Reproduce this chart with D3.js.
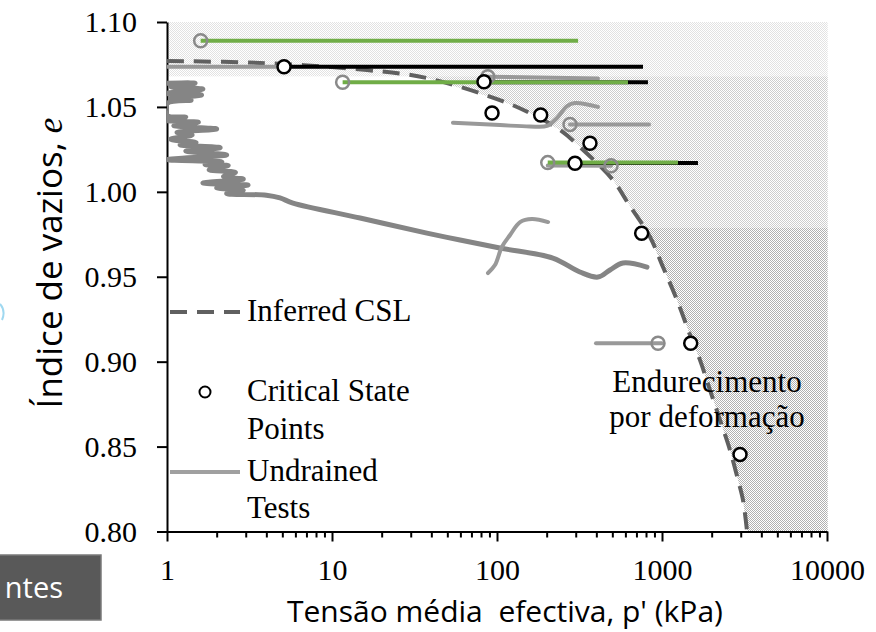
<!DOCTYPE html>
<html>
<head>
<meta charset="utf-8">
<script src="https://cdn.jsdelivr.net/npm/d3@7"></script>
<style>
  body { margin: 0; background: #fff; }
  svg text { white-space: pre; }
</style>
</head>
<body>
<div id="chart"></div>
<script>
// ---- data (p' in kPa, void ratio e) ----
const xTicks = [1, 10, 100, 1000, 10000];
const yTicks = [0.80, 0.85, 0.90, 0.95, 1.00, 1.05, 1.10];

const cslLine = [[1, 1.077], [3.66, 1.0759], [16.3, 1.0717], [37.6, 1.067], [104, 1.054], [158, 1.0464],
  [241, 1.0364], [318, 1.0264], [505, 1.0069], [622, 0.9934], [846, 0.9734], [1014, 0.9557],
  [1233, 0.9363], [1479, 0.9157], [1700, 0.9009], [1954, 0.8833], [2248, 0.8656], [2583, 0.8479],
  [2890, 0.8303], [3097, 0.8185], [3275, 0.8002]];

const consolidation = [[1.0, 1.064], [1.48, 1.064], [1.05, 1.062], [1.65, 1.0605], [1.0, 1.058], [1.62, 1.057],
  [1.05, 1.055], [1.4, 1.054], [1.0, 1.052], [1.0, 1.045], [1.3, 1.044], [1.0, 1.042], [1.55, 1.041],
  [1.1, 1.039], [2.0, 1.037], [1.15, 1.035], [1.42, 1.0335], [1.05, 1.031], [1.5, 1.029], [1.2, 1.0276],
  [2.1, 1.026], [1.3, 1.024], [2.3, 1.0217], [1.0, 1.019], [2.15, 1.0176], [1.7, 1.016], [2.35, 1.0155],
  [1.8, 1.013], [2.6, 1.0115], [2.2, 1.009], [2.9, 1.0075], [1.65, 1.0052], [3.1, 1.004], [2.0, 1.0022],
  [2.9, 1.001], [2.3, 0.999], [4.0, 0.998], [4.84, 0.9964], [5.8, 0.9934], [14.8, 0.9846], [37.6, 0.9757],
  [59.7, 0.9716], [104, 0.9669], [218, 0.961], [318, 0.9528], [409, 0.9498], [484, 0.954], [580, 0.9581],
  [811, 0.9557]];

const undrainedTests = [
  [[1, 1.0737], [5.12, 1.0737]],
  [[88, 1.0678], [409, 1.0667]],
  [[54.1, 1.0407], [104, 1.0393], [158, 1.0385], [201, 1.0388], [231, 1.0435], [266, 1.0505], [297, 1.0523], [409, 1.050]],
  [[277, 1.0397], [834, 1.0397]],
  [[203, 1.0155], [491, 1.0154]],
  [[398, 0.9108], [1000, 0.9108]],
  [[88.2, 0.9522], [97.2, 0.9569], [107, 0.9675], [120, 0.9746], [138, 0.9822], [163, 0.984], [204, 0.9822]]
];

const blackTests = [
  [[5.12, 1.0737], [767, 1.0737]],
  [[83.4, 1.0645], [822, 1.0645]],
  [[297, 1.0170], [1652, 1.0170]]
];

const greenTests = [
  [[1.6, 1.089], [310, 1.089]],
  [[11.6, 1.0645], [622, 1.0645]],
  [[203, 1.0172], [1250, 1.0172]]
];

const startPoints = [[1.6, 1.089], [11.6, 1.0645], [88, 1.0678], [277, 1.0397], [203, 1.0172], [491, 1.0154], [946, 0.9108]];

const criticalPoints = [[5.12, 1.0737], [83.4, 1.0648], [93.3, 1.0464], [184, 1.0452], [366, 1.0286],
  [297, 1.0168], [753, 0.9756], [1493, 0.9108], [2970, 0.8454]];

// shaded zones: e limits
const zoneTop = [1.068, 1.10];
const zoneMid = [0.979, 1.068];
const zoneLow = [0.80, 0.979];

const width = 876, height = 632;
const serif = "'Liberation Serif', 'Times New Roman', serif";
const sans = "'Open Sans', 'Noto Sans', sans-serif";

const svg = d3.select("#chart").append("svg")
  .attr("width", width)
  .attr("height", height);

const x = d3.scaleLog().domain([1, 10000]).range([167, 827]);
const y = d3.scaleLinear().domain([0.80, 1.10]).range([531.5, 22]);

const defs = svg.append("defs");
defs.append("clipPath").attr("id", "plot")
  .append("rect").attr("x", 167).attr("y", 20).attr("width", 665).attr("height", 512);

// fine checker textures for the shaded zones
function texture(id, c) {
  const p = defs.append("pattern").attr("id", id)
    .attr("width", 2).attr("height", 2).attr("patternUnits", "userSpaceOnUse");
  p.append("rect").attr("width", 2).attr("height", 2).attr("fill", "#fff");
  p.append("rect").attr("width", 1).attr("height", 1).attr("fill", c);
  p.append("rect").attr("x", 1).attr("y", 1).attr("width", 1).attr("height", 1).attr("fill", c);
}
texture("texTop", "#e2e2e2");
texture("texMid", "#cdcdcd");
texture("texLow", "#b0b0b0");

// e -> p on the CSL (for zone boundaries)
function cslP(e) {
  for (let i = 0; i < cslLine.length - 1; i++) {
    const a = cslLine[i], b = cslLine[i + 1];
    if ((e <= a[1] && e >= b[1])) {
      const t = (a[1] - e) / (a[1] - b[1]);
      return Math.pow(10, Math.log10(a[0]) + t * (Math.log10(b[0]) - Math.log10(a[0])));
    }
  }
  return e > cslLine[0][1] ? 1 : cslLine[cslLine.length - 1][0];
}

function zonePolygon(lims) {
  const pts = [[cslP(lims[1]), lims[1]]];
  cslLine.forEach(d => { if (d[1] < lims[1] && d[1] > lims[0]) pts.push(d); });
  pts.push([cslP(lims[0]), lims[0]]);
  pts.push([10100, lims[0]], [10100, lims[1]]);
  return pts;
}

const zones = svg.append("g");
zones.append("rect")
  .attr("x", x(1)).attr("y", y(zoneTop[1]))
  .attr("width", x(10100) - x(1)).attr("height", y(zoneTop[0]) - y(zoneTop[1]))
  .attr("fill", "url(#texTop)");
zones.append("path")
  .attr("d", d3.line().x(d => x(d[0])).y(d => y(d[1]))(zonePolygon(zoneMid)) + "Z")
  .attr("fill", "url(#texMid)");
zones.append("path")
  .attr("d", d3.line().x(d => x(d[0])).y(d => y(d[1]))(zonePolygon(zoneLow)) + "Z")
  .attr("fill", "url(#texLow)");

// axes
const xAxis = svg.append("g")
  .attr("transform", `translate(0,${y(0.80)})`)
  .call(d3.axisBottom(x).tickValues(xTicks).tickFormat(d3.format("d")).tickSize(10).tickSizeOuter(0).tickPadding(17));
const minor = [];
xTicks.slice(0, -1).forEach(t => { for (let k = 2; k < 10; k++) minor.push(t * k); });
svg.append("g")
  .attr("transform", `translate(0,${y(0.80)})`)
  .call(d3.axisBottom(x).tickValues(minor).tickFormat("").tickSize(6).tickSizeOuter(0))
  .select(".domain").remove();

const yAxis = svg.append("g")
  .attr("transform", `translate(${x(1)},0)`)
  .call(d3.axisLeft(y).tickValues(yTicks).tickFormat(d3.format(".2f")).tickSize(10).tickSizeOuter(0).tickPadding(20));

svg.selectAll(".domain, .tick line").attr("stroke", "#000").attr("stroke-width", 2);
svg.selectAll(".tick text").style("font-family", serif).style("font-size", "30px").attr("fill", "#000");

const plot = svg.append("g").attr("clip-path", "url(#plot)");
const line = d3.line().x(d => x(d[0])).y(d => y(d[1])).curve(d3.curveCatmullRom.alpha(0.5));

plot.append("path").datum(cslLine)
  .attr("d", line).attr("fill", "none")
  .attr("stroke", "#606060").attr("stroke-width", 4)
  .attr("stroke-dasharray", "17,10");

plot.append("path").datum(consolidation)
  .attr("d", line).attr("fill", "none")
  .attr("stroke", "#858585").attr("stroke-width", 5)
  .attr("stroke-linejoin", "round").attr("stroke-linecap", "round");

plot.selectAll(".undrained").data(undrainedTests).enter().append("path")
  .attr("class", "undrained")
  .attr("d", line).attr("fill", "none")
  .attr("stroke", "#999999").attr("stroke-width", 4).attr("stroke-linecap", "round");

plot.selectAll(".black").data(blackTests).enter().append("path")
  .attr("d", line).attr("fill", "none")
  .attr("stroke", "#000").attr("stroke-width", 4);

plot.selectAll(".green").data(greenTests).enter().append("path")
  .attr("d", line).attr("fill", "none")
  .attr("stroke", "#70ad47").attr("stroke-width", 4);

plot.selectAll(".start").data(startPoints).enter().append("circle")
  .attr("cx", d => x(d[0])).attr("cy", d => y(d[1])).attr("r", 6.5)
  .attr("fill", "none").attr("stroke", "#8a8a8a").attr("stroke-width", 2.5);

plot.selectAll(".cs").data(criticalPoints).enter().append("circle")
  .attr("cx", d => x(d[0])).attr("cy", d => y(d[1])).attr("r", 6.5)
  .attr("fill", "#fff").attr("stroke", "#000").attr("stroke-width", 2.5);

// legend
const leg = svg.append("g");
leg.append("line").attr("x1", 170).attr("x2", 240).attr("y1", 312).attr("y2", 312)
  .attr("stroke", "#606060").attr("stroke-width", 4).attr("stroke-dasharray", "17,10");
leg.append("text").attr("x", 247).attr("y", 321).text("Inferred CSL");
leg.append("circle").attr("cx", 205).attr("cy", 392).attr("r", 5.5)
  .attr("fill", "#fff").attr("stroke", "#000").attr("stroke-width", 2);
leg.append("text").attr("x", 247).attr("y", 401).text("Critical State");
leg.append("text").attr("x", 247).attr("y", 439).text("Points");
leg.append("line").attr("x1", 170).attr("x2", 240).attr("y1", 472).attr("y2", 472)
  .attr("stroke", "#a0a0a0").attr("stroke-width", 4);
leg.append("text").attr("x", 247).attr("y", 481).text("Undrained");
leg.append("text").attr("x", 247).attr("y", 518).text("Tests");
leg.selectAll("text").style("font-family", serif).style("font-size", "31px").attr("fill", "#000");

const note = svg.append("g").style("font-family", serif).style("font-size", "31px").attr("text-anchor", "middle");
note.append("text").attr("x", 707).attr("y", 392).text("Endurecimento");
note.append("text").attr("x", 707).attr("y", 427).text("por deformação");

// axis titles
svg.append("text")
  .attr("x", 287).attr("y", 622)
  .style("font-family", sans).style("font-size", "30px")
  .text("Tensão média  efectiva, p' (kPa)");

const yt = svg.append("text")
  .attr("transform", "translate(62,263) rotate(-90)")
  .attr("text-anchor", "middle")
  .style("font-family", sans).style("font-size", "35px");
yt.append("tspan").text("Índice de vazios, ");
yt.append("tspan").style("font-family", serif).style("font-style", "italic").text("e");

// cropped side elements
svg.append("path").attr("d", "M0,304 Q6,311 2,320")
  .attr("fill", "none").attr("stroke", "#9fd8f0").attr("stroke-width", 2);
svg.append("rect").attr("x", -2).attr("y", 555).attr("width", 103).attr("height", 65)
  .attr("fill", "#595959").attr("stroke", "#7a7a7a").attr("stroke-width", 1.5);
svg.append("text").attr("x", 63).attr("y", 598).attr("text-anchor", "end")
  .style("font-family", sans).style("font-size", "29px").attr("fill", "#fff").text("ntes");
</script>
</body>
</html>
